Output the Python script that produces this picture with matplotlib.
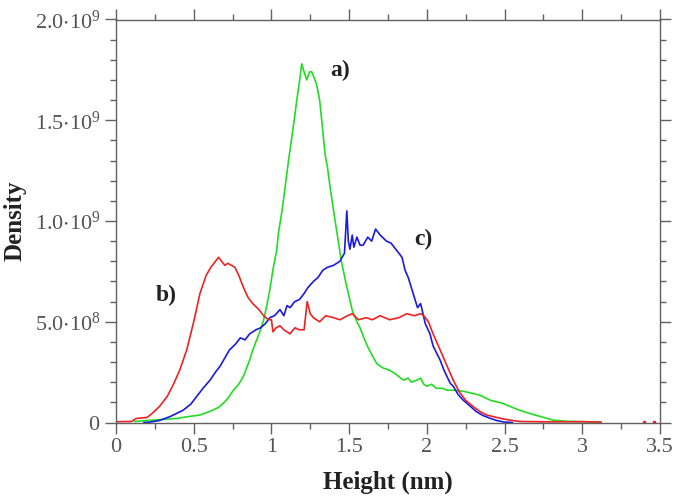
import matplotlib
matplotlib.use("Agg")
import matplotlib.pyplot as plt
from matplotlib.ticker import MultipleLocator, FixedLocator
import numpy as np

# ---- data (density in units of 1e9) ----
red_x = [0, 0.10, 0.13, 0.20, 0.24, 0.28, 0.33, 0.37, 0.41, 0.455, 0.50, 0.54, 0.58, 0.61, 0.64, 0.66,
         0.68, 0.70, 0.72, 0.765, 0.79, 0.82, 0.85, 0.88, 0.92, 0.95, 0.98, 1.00, 1.01, 1.03, 1.055,
         1.08, 1.12, 1.15, 1.18, 1.21, 1.23, 1.25, 1.27, 1.31, 1.35, 1.40, 1.44, 1.49, 1.52, 1.56,
         1.61, 1.65, 1.70, 1.76, 1.82, 1.87, 1.92, 1.96, 1.98, 2.01, 2.04, 2.08, 2.13, 2.17, 2.21,
         2.25, 2.30, 2.34, 2.385, 2.44, 2.49, 2.55, 2.60, 2.80, 3.00, 3.12]
red_y = [0.004, 0.005, 0.02, 0.025, 0.05, 0.08, 0.13, 0.19, 0.26, 0.36, 0.50, 0.64, 0.73, 0.77, 0.80, 0.82,
         0.80, 0.78, 0.79, 0.77, 0.73, 0.67, 0.62, 0.59, 0.56, 0.53, 0.51, 0.51, 0.45, 0.47, 0.48,
         0.46, 0.44, 0.47, 0.46, 0.46, 0.60, 0.54, 0.52, 0.50, 0.53, 0.52, 0.51, 0.53, 0.54, 0.51,
         0.52, 0.51, 0.53, 0.51, 0.52, 0.54, 0.53, 0.54, 0.53, 0.50, 0.44, 0.37, 0.28, 0.21, 0.15,
         0.11, 0.078, 0.055, 0.037, 0.027, 0.018, 0.01, 0.005, 0.003, 0.004, 0.002]
red_dots_x = [3.40, 3.46]
red_dots_y = [0.004, 0.004]

blue_x = [0.18, 0.22, 0.28, 0.35, 0.39, 0.43, 0.48, 0.52, 0.56, 0.605, 0.64, 0.67, 0.70, 0.73, 0.77,
          0.80, 0.83, 0.86, 0.90, 0.93, 0.96, 0.99, 1.02, 1.055, 1.08, 1.10, 1.12, 1.15, 1.18, 1.21,
          1.235, 1.27, 1.30, 1.33, 1.36, 1.40, 1.44, 1.47, 1.485, 1.495, 1.505, 1.52, 1.53, 1.55,
          1.57, 1.59, 1.62, 1.645, 1.67, 1.70, 1.74, 1.77, 1.81, 1.84, 1.86, 1.88, 1.90, 1.92, 1.94,
          1.96, 1.99, 2.02, 2.04, 2.085, 2.11, 2.15, 2.17, 2.20, 2.235, 2.28, 2.32, 2.36, 2.41, 2.45,
          2.49, 2.55]
blue_y = [0.0, 0.002, 0.01, 0.03, 0.045, 0.06, 0.09, 0.13, 0.17, 0.21, 0.25, 0.28, 0.32, 0.36, 0.39,
          0.42, 0.41, 0.44, 0.46, 0.47, 0.49, 0.52, 0.53, 0.56, 0.53, 0.58, 0.57, 0.60, 0.61, 0.64,
          0.67, 0.70, 0.72, 0.755, 0.77, 0.78, 0.80, 0.84, 1.05, 0.90, 0.86, 0.93, 0.87, 0.92,
          0.88, 0.88, 0.92, 0.90, 0.96, 0.93, 0.90, 0.89, 0.85, 0.82, 0.755, 0.72, 0.67, 0.62, 0.57,
          0.59, 0.49, 0.44, 0.38, 0.31, 0.26, 0.195, 0.18, 0.14, 0.11, 0.08, 0.053, 0.035, 0.02, 0.01,
          0.003, 0.0]

green_x = [0.12, 0.20, 0.30, 0.39, 0.47, 0.54, 0.62, 0.66, 0.69, 0.72, 0.755, 0.79, 0.82, 0.84, 0.86,
           0.88, 0.905, 0.93, 0.95, 0.97, 0.99, 1.01, 1.034, 1.045, 1.07, 1.09, 1.11, 1.13, 1.15,
           1.163, 1.18, 1.195, 1.21, 1.227, 1.245, 1.26, 1.275, 1.29, 1.31, 1.33, 1.345, 1.36, 1.377,
           1.40, 1.42, 1.45, 1.48, 1.52, 1.55, 1.57, 1.60, 1.62, 1.65, 1.68, 1.72, 1.76, 1.80, 1.85,
           1.88, 1.90, 1.935, 1.96, 1.98, 2.00, 2.03, 2.06, 2.10, 2.13, 2.18, 2.235, 2.29, 2.34, 2.41,
           2.49, 2.55, 2.60, 2.66, 2.73, 2.81, 2.90, 3.00, 3.12]
green_y = [0.005, 0.01, 0.015, 0.02, 0.03, 0.037, 0.06, 0.075, 0.095, 0.12, 0.16, 0.19, 0.23, 0.27, 0.31,
           0.36, 0.41, 0.46, 0.51, 0.58, 0.66, 0.76, 0.855, 0.94, 1.06, 1.18, 1.30, 1.41, 1.52,
           1.60, 1.69, 1.78, 1.74, 1.70, 1.74, 1.74, 1.71, 1.68, 1.60, 1.45, 1.33, 1.27, 1.17,
           1.05, 0.95, 0.80, 0.69, 0.557, 0.50, 0.47, 0.41, 0.375, 0.33, 0.29, 0.27, 0.26, 0.24, 0.21,
           0.22, 0.20, 0.21, 0.22, 0.19, 0.18, 0.19, 0.17, 0.17, 0.16, 0.16, 0.155, 0.145, 0.136, 0.11,
           0.095, 0.075, 0.06, 0.045, 0.03, 0.012, 0.006, 0.004, 0.002]

x_ticks = [0, 0.5, 1, 1.5, 2, 2.5, 3, 3.5]
x_tick_labels = ["0", "0.5", "1", "1.5", "2", "2.5", "3", "3.5"]
y_ticks = [0, 0.5e9, 1.0e9, 1.5e9, 2.0e9]
y_tick_labels = [r"$\mathregular{0}$", r"$\mathregular{5.0{\cdot}10^8}$", r"$\mathregular{1.0{\cdot}10^9}$",
                 r"$\mathregular{1.5{\cdot}10^9}$", r"$\mathregular{2.0{\cdot}10^9}$"]

SCALE = 1e9
GRAY = "#606060"
plt.rcParams['font.family'] = ['Liberation Serif', 'DejaVu Serif']
plt.rcParams['mathtext.fontset'] = 'custom'
plt.rcParams['mathtext.rm'] = 'Liberation Serif'

fig = plt.figure(figsize=(6.87, 4.97), dpi=100)
ax = fig.add_axes([116/687, 1-422.5/497, (660-116)/687, (422.5-19.5)/497])

lw = 1.2
ax.plot(green_x, np.array(green_y)*SCALE, color="#22dd22", lw=lw)
ax.plot(blue_x, np.array(blue_y)*SCALE, color="#1a1ae0", lw=lw)
ax.plot(red_x, np.array(red_y)*SCALE, color="#ee2222", lw=lw)
ax.plot(red_dots_x, np.array(red_dots_y)*SCALE, ls="none", marker="s", ms=2, color="#ee2222")

ax.set_xlim(0, 3.5)
ax.set_ylim(0, 2.0e9)
ax.xaxis.set_major_locator(FixedLocator(x_ticks))
ax.set_xticklabels(x_tick_labels)
ax.yaxis.set_major_locator(FixedLocator(y_ticks))
ax.set_yticklabels(y_tick_labels)
ax.xaxis.set_minor_locator(MultipleLocator(0.25))
ax.yaxis.set_minor_locator(MultipleLocator(1e8))

for s in ax.spines.values():
    s.set_color(GRAY)
    s.set_linewidth(1.0)
ax.tick_params(which="both", direction="out", top=True, right=True, color=GRAY, width=1.0)
ax.tick_params(which="major", length=8, labelsize=16, labelcolor="#555555", pad=3)
ax.tick_params(which="minor", length=4.5)
ax.tick_params(axis="x", labeltop=False)
ax.tick_params(axis="y", labelright=False)

ax.set_xlabel("Height (nm)", fontsize=18, fontweight="bold", color="#222222", labelpad=10)
ax.set_ylabel("Density", fontsize=18, fontweight="bold", color="#222222", va="center", ha="center")
ax.yaxis.set_label_coords(-0.186, 0.5)

ax.text(1.44, 1.745e9, "a)", fontsize=17, fontweight="bold", color="#222222", ha="center", va="center")
ax.text(0.32, 0.63e9, "b)", fontsize=17, fontweight="bold", color="#222222", ha="center", va="center")
ax.text(1.98, 0.91e9, "c)", fontsize=17, fontweight="bold", color="#222222", ha="center", va="center")

fig.savefig("out.png", dpi=100)
